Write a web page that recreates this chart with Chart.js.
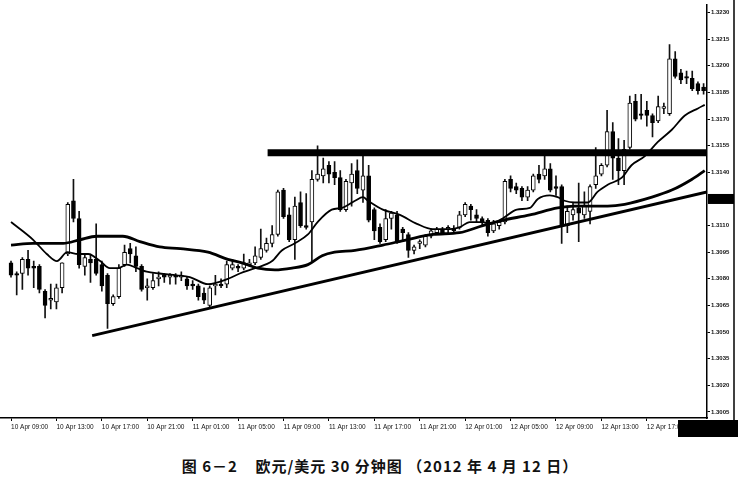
<!DOCTYPE html>
<html>
<head>
<meta charset="utf-8">
<script src="https://cdn.jsdelivr.net/npm/chart.js@4.4.1/dist/chart.umd.min.js"></script>
<style>
  body { margin: 0; background: #fff; }
  #wrap { position: relative; width: 738px; height: 477px; overflow: hidden; }
  #c { position: absolute; left: 0; top: 0; }
  #cap { position: absolute; left: 0; top: 455px; width: 760px; text-align: center;
         font: bold 15px "Noto Sans CJK SC", sans-serif; letter-spacing: 1px; color: #111; white-space: pre; }
</style>
</head>
<body>
<div id="wrap">
  <canvas id="c" width="738" height="440"></canvas>
  <div id="cap">图 6－2    欧元/美元 30 分钟图 （2012 年 4 月 12 日）</div>
</div>
<script>
// EUR/USD 30 min bars, 10 Apr 09:00 onwards
var open = [1.3089,1.3083,1.3083,1.3091,1.3087,1.3087,1.3073,1.3068,1.3067,1.3075,
  1.3094,1.3124,1.3114,1.3087,1.3091,1.3091,1.3088,1.3082,1.3066,1.3070,
  1.3088,1.3097,1.3093,1.3087,1.3075,1.3075,1.3080,1.3082,1.3081,1.3082,
  1.3081,1.3080,1.3077,1.3076,1.3072,1.3065,1.3076,1.3077,1.3077,1.3086,
  1.3087,1.3086,1.3088,1.3089,1.3092,1.3096,1.3100,1.3105,1.3130,1.3116,
  1.3102,1.3123,1.3110,1.3112,1.3136,1.3138,1.3144,1.3140,1.3137,1.3119,
  1.3134,1.3141,1.3130,1.3138,1.3119,1.3109,1.3102,1.3114,1.3116,1.3108,
  1.3105,1.3096,1.3100,1.3099,1.3104,1.3106,1.3108,1.3108,1.3108,1.3109,
  1.3116,1.3121,1.3116,1.3114,1.3113,1.3107,1.3110,1.3112,1.3136,1.3132,
  1.3131,1.3126,1.3130,1.3139,1.3138,1.3142,1.3132,1.3132,1.3110,1.3116,
  1.3120,1.3116,1.3118,1.3133,1.3139,1.3144,1.3163,1.3148,1.3141,1.3154,
  1.3180,1.3173,1.3175,1.3172,1.3169,1.3176,1.3173,1.3204,1.3196,1.3194,
  1.3193,1.3190,1.3188];
var high = [1.3090,1.3084,1.3092,1.3096,1.3090,1.3088,1.3074,1.3077,1.3077,1.3089,
  1.3123,1.3136,1.3118,1.3094,1.3094,1.3111,1.3090,1.3083,1.3071,1.3088,
  1.3099,1.3100,1.3098,1.3088,1.3080,1.3083,1.3084,1.3083,1.3083,1.3083,
  1.3084,1.3081,1.3079,1.3077,1.3075,1.3076,1.3082,1.3080,1.3090,1.3091,
  1.3088,1.3094,1.3091,1.3098,1.3108,1.3103,1.3110,1.3130,1.3131,1.3120,
  1.3126,1.3129,1.3128,1.3141,1.3155,1.3148,1.3146,1.3146,1.3141,1.3136,
  1.3145,1.3147,1.3149,1.3144,1.3120,1.3111,1.3119,1.3118,1.3118,1.3109,
  1.3106,1.3099,1.3102,1.3105,1.3108,1.3109,1.3109,1.3110,1.3110,1.3118,
  1.3123,1.3122,1.3119,1.3115,1.3114,1.3113,1.3113,1.3136,1.3138,1.3134,
  1.3132,1.3132,1.3139,1.3144,1.3149,1.3145,1.3138,1.3133,1.3121,1.3123,
  1.3134,1.3129,1.3133,1.3154,1.3145,1.3175,1.3168,1.3159,1.3158,1.3183,
  1.3184,1.3184,1.3180,1.3173,1.3183,1.3179,1.3212,1.3208,1.3198,1.3197,
  1.3197,1.3191,1.3190];
var low = [1.3081,1.3071,1.3074,1.3082,1.3075,1.3072,1.3058,1.3063,1.3063,1.3072,
  1.3093,1.3112,1.3086,1.3082,1.3078,1.3082,1.3073,1.3052,1.3065,1.3069,
  1.3087,1.3089,1.3084,1.3073,1.3068,1.3074,1.3076,1.3078,1.3077,1.3077,
  1.3079,1.3074,1.3074,1.3068,1.3066,1.3064,1.3071,1.3075,1.3075,1.3085,
  1.3084,1.3085,1.3087,1.3088,1.3091,1.3095,1.3098,1.3104,1.3114,1.3101,
  1.3091,1.3109,1.3108,1.3090,1.3135,1.3134,1.3134,1.3133,1.3118,1.3118,
  1.3121,1.3128,1.3123,1.3112,1.3102,1.3100,1.3101,1.3108,1.3100,1.3102,
  1.3092,1.3094,1.3097,1.3098,1.3103,1.3105,1.3106,1.3105,1.3106,1.3108,
  1.3115,1.3113,1.3112,1.3110,1.3104,1.3106,1.3108,1.3111,1.3129,1.3128,
  1.3124,1.3124,1.3129,1.3134,1.3136,1.3129,1.3127,1.3100,1.3106,1.3113,
  1.3101,1.3114,1.3111,1.3131,1.3138,1.3143,1.3136,1.3133,1.3133,1.3153,
  1.3169,1.3170,1.3166,1.3160,1.3168,1.3173,1.3172,1.3193,1.3190,1.3190,
  1.3186,1.3184,1.3184];
var close = [1.3082,1.3082,1.3091,1.3086,1.3086,1.3074,1.3065,1.3069,1.3075,1.3089,
  1.3122,1.3114,1.3088,1.3092,1.3089,1.3083,1.3076,1.3066,1.3070,1.3086,
  1.3095,1.3094,1.3087,1.3074,1.3076,1.3079,1.3081,1.3081,1.3082,1.3081,
  1.3082,1.3076,1.3076,1.3070,1.3068,1.3075,1.3077,1.3076,1.3088,1.3088,
  1.3086,1.3089,1.3089,1.3093,1.3097,1.3100,1.3105,1.3129,1.3115,1.3102,
  1.3121,1.3110,1.3109,1.3136,1.3139,1.3142,1.3139,1.3137,1.3119,1.3135,
  1.3139,1.3131,1.3138,1.3113,1.3107,1.3101,1.3114,1.3117,1.3101,1.3106,
  1.3096,1.3098,1.3101,1.3104,1.3107,1.3108,1.3106,1.3109,1.3107,1.3116,
  1.3122,1.3119,1.3114,1.3112,1.3106,1.3111,1.3112,1.3135,1.3131,1.3130,
  1.3126,1.3130,1.3138,1.3136,1.3142,1.3130,1.3131,1.3110,1.3118,1.3119,
  1.3117,1.3121,1.3132,1.3138,1.3144,1.3163,1.3148,1.3141,1.3153,1.3179,
  1.3170,1.3172,1.3172,1.3168,1.3177,1.3177,1.3204,1.3194,1.3192,1.3193,
  1.3187,1.3186,1.3186];

// moving averages (bar index, price)
var fastIdx = [0,3.9,6.3,8.1,9.9,11.8,13.6,15.7,17.4,18.8,20.4,22.2,23.9,26.2,29.2,31.5,34.7,38.2,40.3,43.0,
  46.0,47.7,50.0,52.3,54.0,56.5,58.3,60.6,62.0,62.9,65.5,68.5,71.5,74.3,77.3,79.0,80.8,83.1,84.3,86.6,
  89.1,91.4,92.8,94.9,96.3,97.5,99.3,101.6,103.3,105.1,107.6,109.3,111.6,113.9,116.4,118.7,121.0,122.2];
var fastVal = [1.3112,1.3102,1.3094,1.3090,1.3095,1.3094,1.3094,1.3090,1.3086,1.3086,1.3088,1.3086,1.3084,1.3083,1.3082,1.3081,1.3077,1.3080,1.3083,1.3086,
  1.3090,1.3096,1.3100,1.3105,1.3112,1.3119,1.3120,1.3124,1.3126,1.3124,1.3119,1.3116,1.3111,1.3108,1.3108,1.3109,1.3112,1.3112,1.3111,1.3114,
  1.3119,1.3120,1.3125,1.3127,1.3126,1.3124,1.3123,1.3123,1.3129,1.3133,1.3137,1.3144,1.3149,1.3157,1.3164,1.3172,1.3176,1.3178];
var slowIdx = [0,3.9,9.2,12.1,15.1,19.7,22.7,26.2,29.8,34.7,38.2,40.7,43.5,46.5,49.5,52.3,54.8,57.0,60.6,65.5,
  69.7,74.3,79.0,83.1,86.6,91.4,96.3,99.3,105.1,108.1,112.9,116.4,119.9,122.2];
var slowVal = [1.3099,1.3100,1.3100,1.3102,1.3104,1.3104,1.3101,1.3098,1.3097,1.3095,1.3091,1.3089,1.3086,1.3085,1.3086,1.3088,1.3093,1.3095,1.3096,1.3099,
  1.3102,1.3105,1.3106,1.3110,1.3113,1.3116,1.3120,1.3121,1.3121,1.3122,1.3126,1.3130,1.3136,1.3141];

// drawn lines: support trendline and resistance
var trendIdx = [14.3, 122.6];
var trendVal = [1.3048, 1.3129];
var resIdx = [45.2, 122.6];
var resVal = [1.3151, 1.3151];
var lastMark = 1.3125;

var yTickShow = [1.3005,1.3020,1.3035,1.3050,1.3065,1.3080,1.3095,1.3110,1.3140,1.3155,1.3170,1.3185,1.3200,1.3215,1.3230];
var xTickIdx = [0,8,16,24,32,40,48,56,64,72,80,88,96,104,112];
var xLabels = ['10 Apr 09:00','10 Apr 13:00','10 Apr 17:00','10 Apr 21:00','11 Apr 01:00','11 Apr 05:00',
  '11 Apr 09:00','11 Apr 13:00','11 Apr 17:00','11 Apr 21:00','12 Apr 01:00','12 Apr 05:00',
  '12 Apr 09:00','12 Apr 13:00','12 Apr 17:00'];

var wicks = [], bodies = [], bodyCol = [];
for (var i = 0; i < open.length; i++) {
  wicks.push({x: i, y: [low[i], high[i]]});
  bodies.push({x: i, y: [open[i], close[i]]});
  bodyCol.push(close[i] >= open[i] ? '#fff' : '#000');
}
function pts(xs, ys) { return xs.map(function (x, k) { return {x: x, y: ys[k]}; }); }

var frame = {
  id: 'frame',
  afterDraw: function (chart) {
    var ctx = chart.ctx, a = chart.chartArea, ys = chart.scales.y;
    ctx.save();
    ctx.fillStyle = '#000';
    // last price box on the axis
    var py = ys.getPixelForValue(lastMark);
    ctx.fillRect(a.right + 1, py - 5, 26, 10);
    // black box over the last date label
    ctx.fillRect(678, a.bottom + 2, 60, 17);
    // outer right edge
    ctx.lineWidth = 1.5;
    ctx.beginPath();
    ctx.moveTo(734, 0); ctx.lineTo(734, a.bottom + 2);
    ctx.stroke();
    ctx.restore();
  }
};

new Chart(document.getElementById('c'), {
  data: {
    datasets: [
      { type: 'line', data: pts(resIdx, resVal), borderColor: '#000', borderWidth: 7, pointRadius: 0, order: 0 },
      { type: 'line', data: pts(trendIdx, trendVal), borderColor: '#000', borderWidth: 3, pointRadius: 0, order: 0 },
      { type: 'line', data: pts(slowIdx, slowVal), borderColor: '#000', borderWidth: 2.8, pointRadius: 0,
        cubicInterpolationMode: 'monotone', order: 0 },
      { type: 'line', data: pts(fastIdx, fastVal), borderColor: '#000', borderWidth: 1.8, pointRadius: 0,
        cubicInterpolationMode: 'monotone', order: 0 },
      { type: 'bar', data: bodies, backgroundColor: bodyCol, borderColor: '#000', borderWidth: 1,
        borderSkipped: false, barThickness: 4, grouped: false, order: 1 },
      { type: 'bar', data: wicks, backgroundColor: '#111', barThickness: 1, grouped: false, order: 2 }
    ]
  },
  options: {
    responsive: false,
    animation: false,
    layout: { padding: 0 },
    plugins: { legend: { display: false }, tooltip: { enabled: false } },
    scales: {
      x: {
        type: 'linear', min: -1.94, max: 122.6, offset: false,
        grid: { drawOnChartArea: false, tickLength: 3, color: '#000', offset: false },
        border: { color: '#000', width: 1.5 },
        afterBuildTicks: function (s) { s.ticks = xTickIdx.map(function (v) { return {value: v}; }); },
        afterFit: function (s) { s.height = 22; },
        ticks: {
          autoSkip: false, maxRotation: 0, align: 'start', padding: 2, color: '#111',
          font: { family: 'Liberation Sans', size: 6.5 },
          callback: function (v, k) { return xLabels[k]; }
        }
      },
      y: {
        position: 'right', min: 1.30016, max: 1.32345,
        grid: { drawOnChartArea: false, tickLength: 3, color: '#000' },
        border: { color: '#000', width: 1.5 },
        afterBuildTicks: function (s) { s.ticks = yTickShow.map(function (v) { return {value: v}; }); },
        afterFit: function (s) { s.width = 31; },
        ticks: {
          padding: 1, color: '#111',
          font: { family: 'Liberation Sans', size: 6, weight: 'bold' },
          callback: function (v) { return v.toFixed(4); }
        }
      }
    }
  },
  plugins: [frame]
});
</script>
</body>
</html>
